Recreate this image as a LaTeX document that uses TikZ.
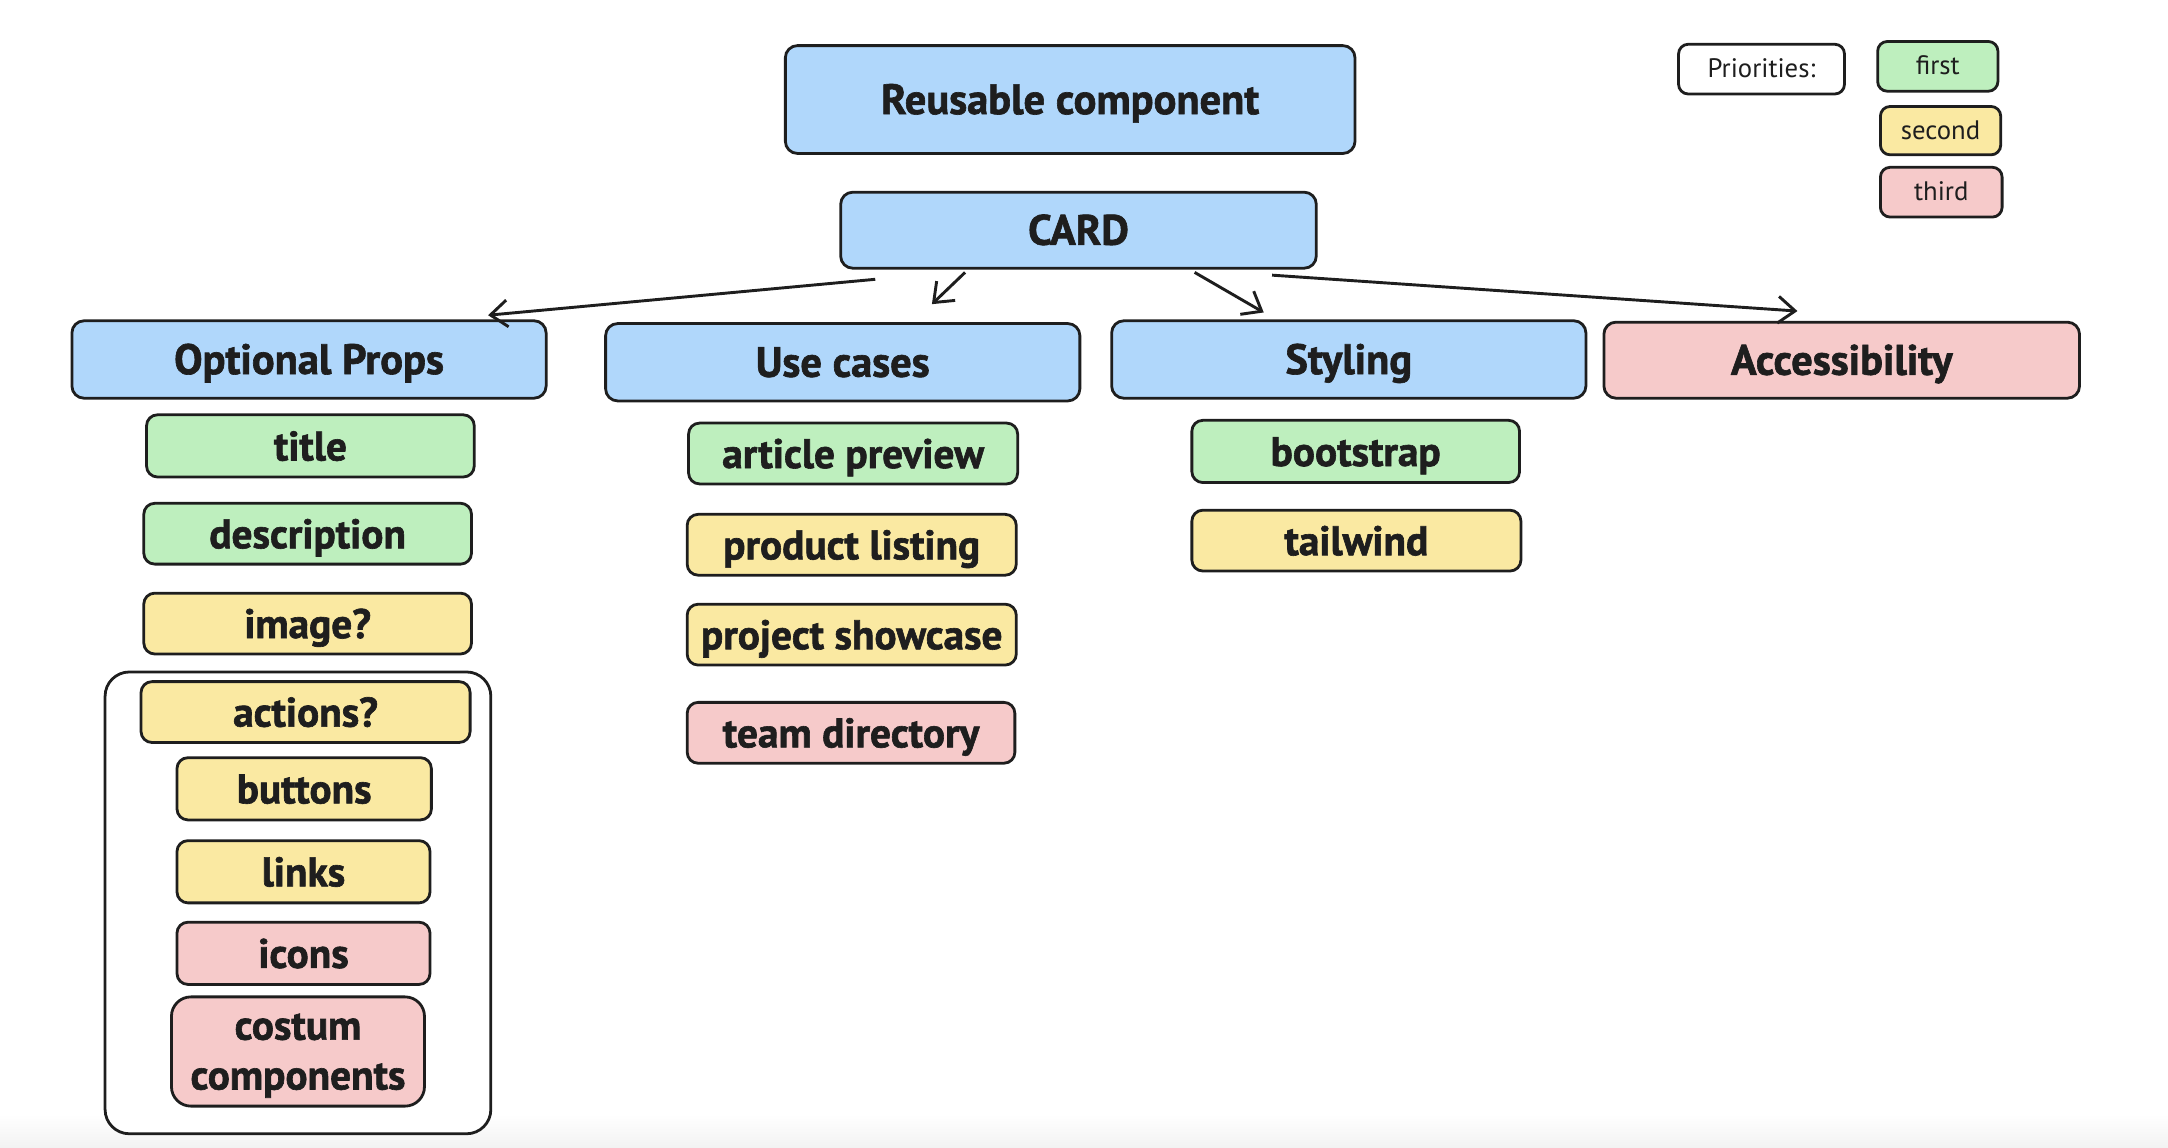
\documentclass[tikz,border=0pt]{standalone}
\usepackage{fontspec}
\setmainfont{PT Sans}[BoldFeatures={FakeBold=1.5}]
\usetikzlibrary{arrows.meta,calc}
\definecolor{ink}{HTML}{1E1E1E}
\definecolor{cblue}{HTML}{B0D7FB}
\definecolor{cgreen}{HTML}{BEEFBE}
\definecolor{cyellow}{HTML}{FAE9A2}
\definecolor{cpink}{HTML}{F6CACA}
\tikzset{
  wh/.style 2 args={minimum width=#1*0.02cm, minimum height=#2*0.02cm},
  box/.style={draw=ink, line width=1.15pt, rounded corners=5pt, inner sep=0pt, align=center, text=ink},
  big/.style={box, font=\fontsize{17.5}{20}\selectfont\bfseries, text height=14pt, text depth=2pt},
  item/.style={box, rounded corners=4.5pt, font=\fontsize{17}{20}\selectfont\bfseries, text height=14pt, text depth=2pt},
  legend/.style={box, rounded corners=4pt, font=\fontsize{11}{12}\selectfont, text height=8pt, text depth=1pt},
  conn/.style={draw=ink, line width=1.2pt, -{Straight Barb[length=7pt,width=11pt]}},
}
\begin{document}
\begin{tikzpicture}[x=0.02cm, y=-0.02cm]
\useasboundingbox (0,0) rectangle (1568,830);
\fill[top color=white, bottom color=black!5] (0,806) rectangle (1568,830);

% top
\node[big, fill=cblue, wh={412}{78}] (reuse) at (774,72) {Reusable component};
\node[big, fill=cblue, wh={344}{55}] (card) at (780,166.5) {CARD};

% categories
\node[big, fill=cblue, wh={343}{56}] (opt) at (223.5,260) {Optional Props};
\node[big, fill=cblue, wh={343}{56}] (use) at (609.5,262) {Use cases};
\node[big, fill=cblue, wh={343}{56}] (sty) at (975.5,260) {Styling};
\node[big, fill=cpink, wh={344}{55}] (acc) at (1332,260.5) {Accessibility};

% optional props
\node[item, fill=cgreen, wh={237}{45}] (title) at (224.5,322.5) {title};
\node[item, fill=cgreen, wh={237}{44}] (desc) at (222.5,386) {description};
\node[item, fill=cyellow, wh={237}{44}] (img) at (222.5,451) {image?};
\node[box, fill=white, rounded corners=10pt, wh={279}{334}] (grp) at (215.5,653) {};
\node[item, fill=cyellow, wh={238}{44}] (act) at (221,515) {actions?};
\node[item, fill=cyellow, wh={184}{45}] (btn) at (220,570.5) {buttons};
\node[item, fill=cyellow, wh={183}{45}] (lnk) at (219.5,630.5) {links};
\node[item, fill=cpink, wh={183}{45}] (ico) at (219.5,689.5) {icons};
\node[box, fill=cpink, rounded corners=8pt, wh={183}{79}] (cst) at (215.5,760.5) {};
\node[font=\fontsize{17}{20.5}\selectfont\bfseries, text=ink, align=center, inner sep=0pt] (cstlabel) at ($(cst.center)+(0,3)$) {costum\\components};

% use cases
\node[item, fill=cgreen, wh={238}{44}] (art) at (617,328) {article preview};
\node[item, fill=cyellow, wh={238}{44}] (prod) at (616,394) {product listing};
\node[item, fill=cyellow, wh={238}{44}] (proj) at (616,459) {project showcase};
\node[item, fill=cpink, wh={237}{44}] (team) at (615.5,530) {team directory};

% styling
\node[item, fill=cgreen, wh={237}{45}] (boot) at (980.5,326.5) {bootstrap};
\node[item, fill=cyellow, wh={238}{44}] (tail) at (981,391) {tailwind};

% legend
\node[legend, fill=white, wh={120}{36}] (prio) at (1274,50) {Priorities:};
\node[legend, fill=cgreen, wh={87}{36}] (first) at (1401.5,48) {first};
\node[legend, fill=cyellow, wh={87}{35}] (second) at (1403.5,94.5) {second};
\node[legend, fill=cpink, wh={88}{36}] (third) at (1404,139) {third};

% connectors
\draw[conn] ($(card.south)+(-147,7)$) -- ($(opt.north)+(129.5,-3)$);
\draw[conn] ($(card.south)+(-82,2)$) -- ($(use.north)+(64.5,-13)$);
\draw[conn] ($(card.south)+(84,2)$) -- ($(sty.north)+(-61.5,-5)$);
\draw[conn] ($(card.south)+(140,4)$) -- ($(acc.north)+(-32,-7)$);
\end{tikzpicture}
\end{document}
